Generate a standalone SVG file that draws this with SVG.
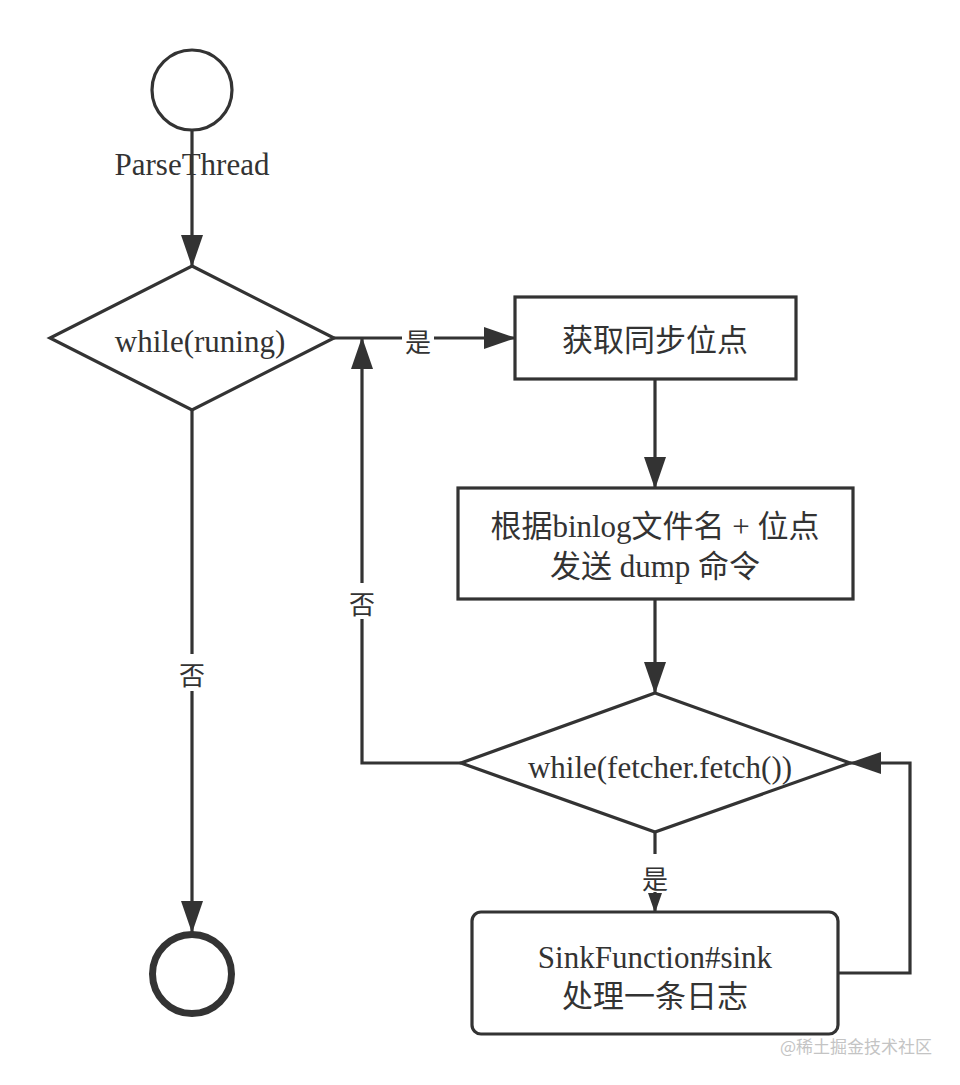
<svg xmlns="http://www.w3.org/2000/svg" width="960" height="1085" viewBox="0 0 960 1085">
  <style>
    .shape { fill: #ffffff; stroke: #333333; stroke-width: 3.2; }
    .edge { fill: none; stroke: #333333; stroke-width: 3.2; }
    .serif { font-family: "Liberation Serif", "Noto Sans CJK SC", serif; font-size: 31px; fill: #333333; text-anchor: middle; }
    .cjk { font-family: "Noto Sans CJK SC", sans-serif; font-size: 31px; fill: #333333; text-anchor: middle; }
    .lbl { font-family: "Noto Sans CJK SC", sans-serif; font-size: 26px; fill: #333333; text-anchor: middle; dominant-baseline: central; }
    .lblbg { fill: #ffffff; stroke: none; }
    .wm { font-family: "Noto Sans CJK SC", sans-serif; font-size: 17px; fill: #c4c4c4; text-anchor: end; }
  </style>
  <defs>
    <marker id="arrow" markerUnits="userSpaceOnUse" markerWidth="32" markerHeight="22" refX="31" refY="11" orient="auto">
      <path d="M0,0 L32,11 L0,22 z" fill="#333333"/>
    </marker>
    <marker id="arrowSmall" markerUnits="userSpaceOnUse" markerWidth="20" markerHeight="16" refX="19" refY="8" orient="auto">
      <path d="M0,1 L20,8 L0,15 z" fill="#333333"/>
    </marker>
  </defs>
  <rect x="0" y="0" width="960" height="1085" fill="#ffffff"/>

  <g id="connectors">
    <line class="edge" x1="192" y1="130" x2="192" y2="266" marker-end="url(#arrow)"/>
    <line class="edge" x1="334" y1="338" x2="515" y2="338" marker-end="url(#arrow)"/>
    <line class="edge" x1="655" y1="379" x2="655" y2="488" marker-end="url(#arrow)"/>
    <line class="edge" x1="655" y1="599" x2="655" y2="693" marker-end="url(#arrow)"/>
    <polyline class="edge" points="461,763 362,763 362,338" marker-end="url(#arrow)"/>
    <line class="edge" x1="655" y1="832" x2="655" y2="912" marker-end="url(#arrowSmall)"/>
    <polyline class="edge" points="838,973 910,973 910,763 850,763" marker-end="url(#arrow)"/>
    <line class="edge" x1="192" y1="410" x2="192" y2="932" marker-end="url(#arrow)"/>

    <rect class="lblbg" x="402" y="322" width="32" height="32"/>
    <text class="lbl" x="418" y="340">是</text>
    <rect class="lblbg" x="347" y="583" width="30" height="36"/>
    <text class="lbl" x="362" y="602">否</text>
    <rect class="lblbg" x="177" y="654" width="30" height="37"/>
    <text class="lbl" x="192" y="673">否</text>
    <rect class="lblbg" x="639" y="854" width="32" height="38"/>
    <text class="lbl" x="655" y="877">是</text>
  </g>

  <g id="start">
    <circle class="shape" cx="192" cy="90" r="40"/>
    <text class="serif" x="192" y="175">ParseThread</text>
  </g>

  <g id="loop-running">
    <polygon class="shape" points="192,266 334,338 192,410 50,338"/>
    <text class="serif" x="200" y="352">while(runing)</text>
  </g>

  <g id="get-position">
    <rect class="shape" x="515" y="297" width="281" height="82"/>
    <text class="cjk" x="655" y="351">获取同步位点</text>
  </g>

  <g id="send-dump">
    <rect class="shape" x="458" y="488" width="395" height="111"/>
    <text class="serif" x="655" y="537">根据binlog文件名 + 位点</text>
    <text class="serif" x="655" y="577">发送 dump 命令</text>
  </g>

  <g id="loop-fetch">
    <polygon class="shape" points="655,693 850,763 655,832 461,763"/>
    <text class="serif" x="660" y="778">while(fetcher.fetch())</text>
  </g>

  <g id="sink">
    <rect class="shape" x="472" y="912" width="366" height="122" rx="9" ry="9"/>
    <text class="serif" x="655" y="968">SinkFunction#sink</text>
    <text class="cjk" x="655" y="1007">处理一条日志</text>
  </g>

  <g id="end">
    <circle cx="192" cy="974" r="39.5" fill="#ffffff" stroke="#333333" stroke-width="7"/>
  </g>

  <text class="wm" x="932" y="1053">@稀土掘金技术社区</text>
</svg>
